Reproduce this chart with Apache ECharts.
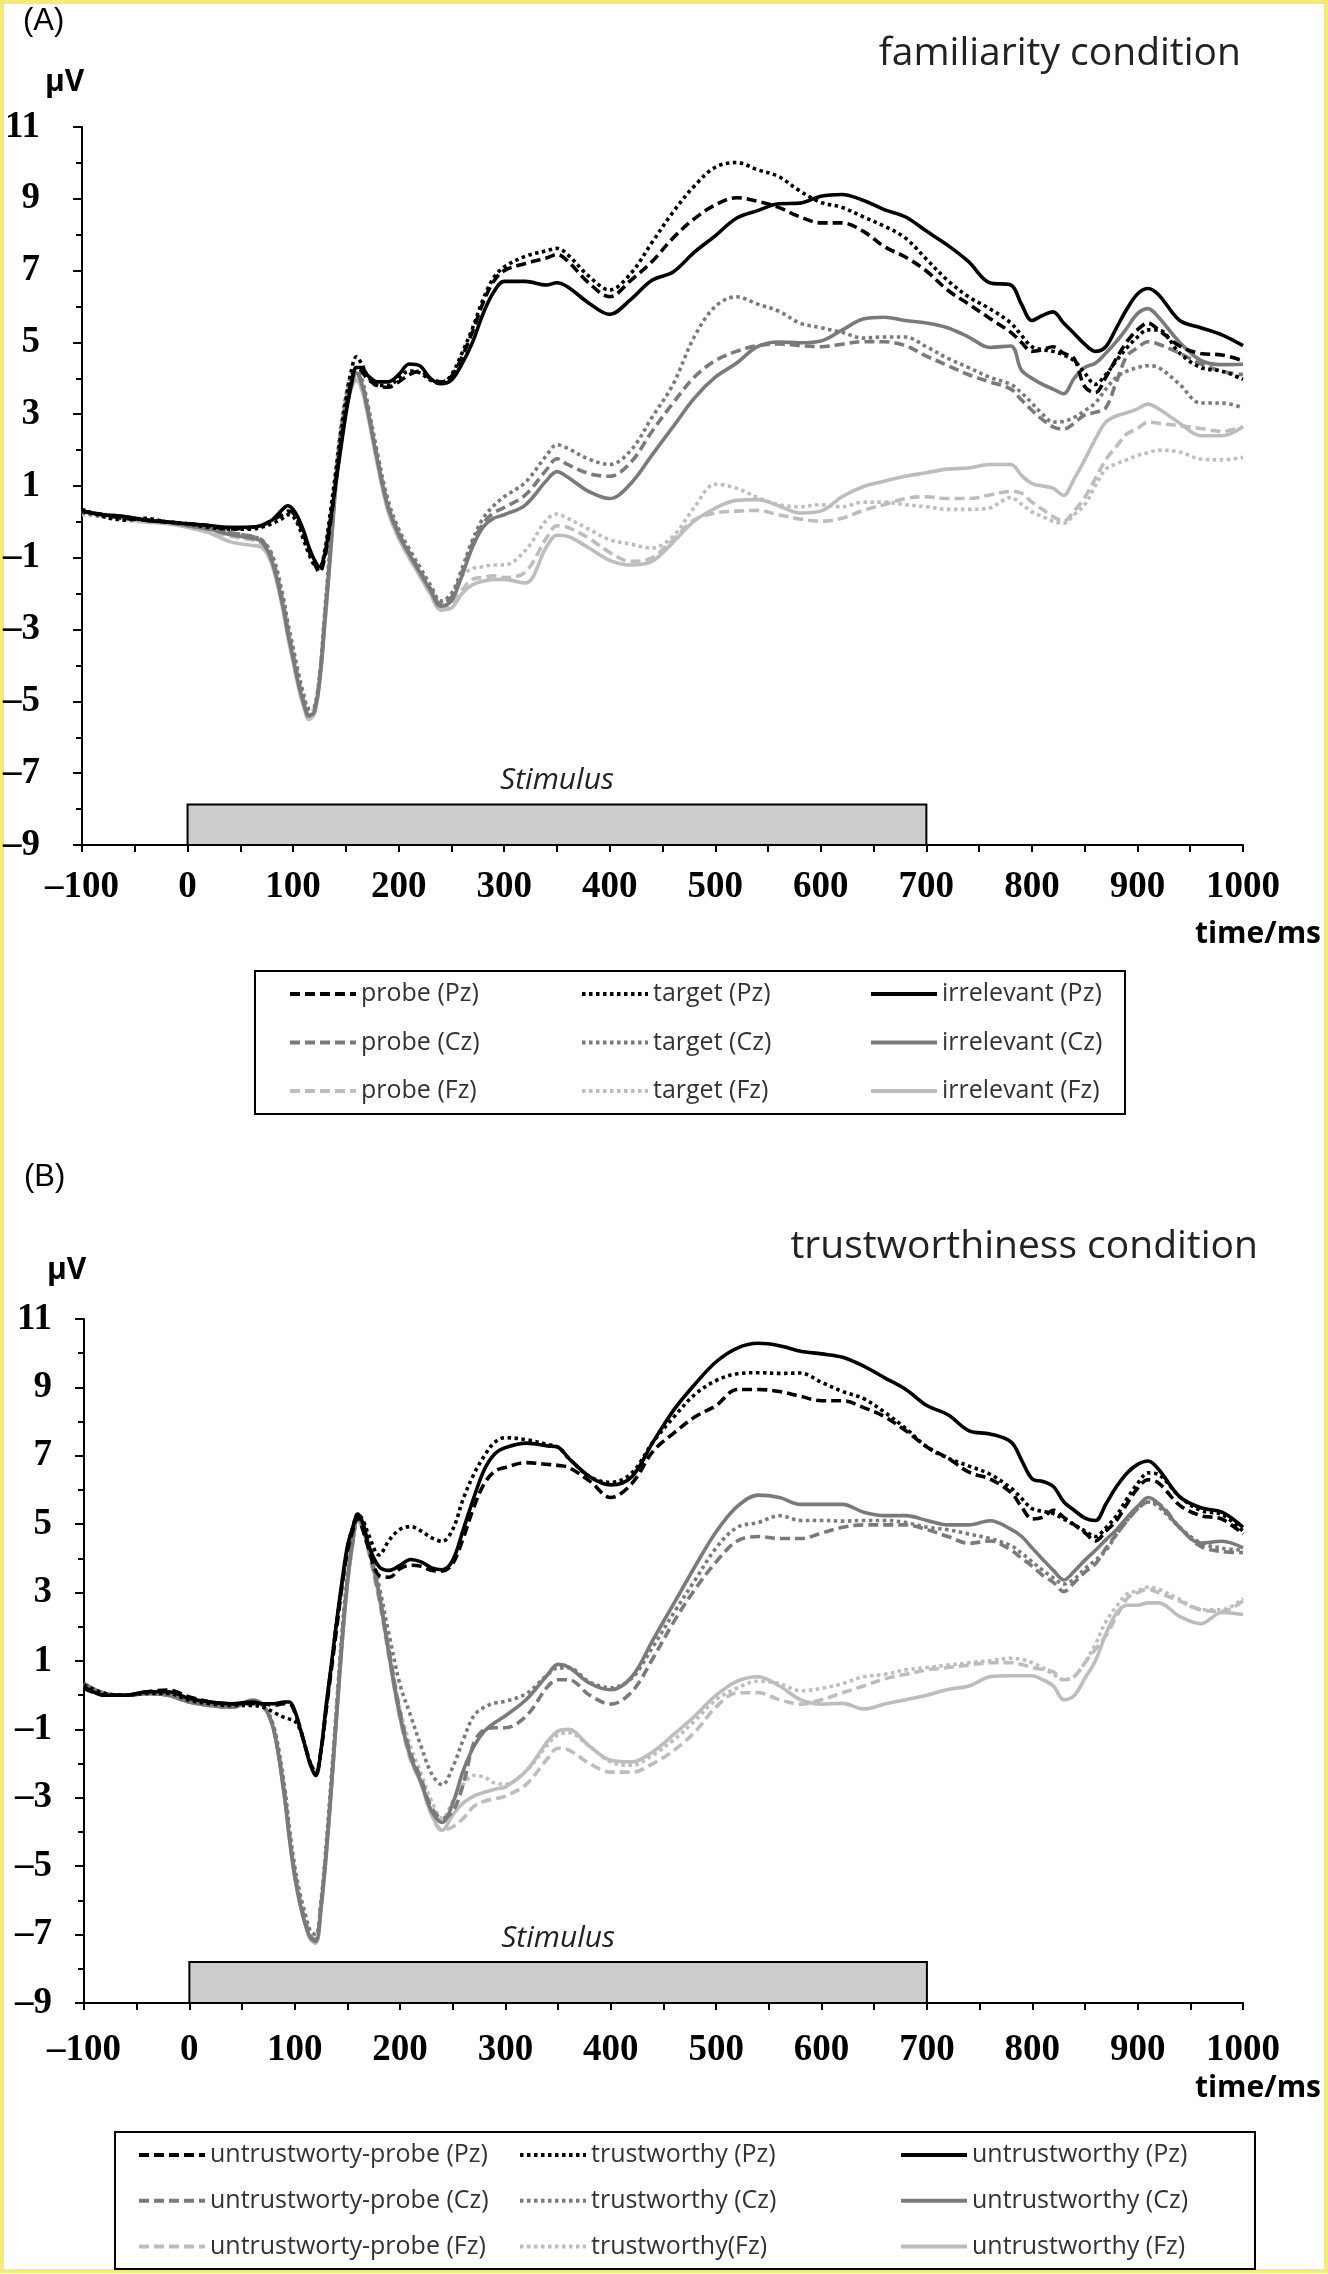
<!DOCTYPE html>
<html>
<head>
<meta charset="utf-8">
<script src="https://cdn.jsdelivr.net/npm/echarts@6/dist/echarts.min.js"></script>
<style>
html,body{margin:0;padding:0;background:#fff;}
#chart{width:1328px;height:2274px;}
</style>
</head>
<body>
<div id="chart"></div>
<script>
// time points (ms)
const T = [
-100,-80,-60,-40,-20,0,20,40,60,
70,80,90,95,100,105,110,115,120,125,130,135,140,145,150,155,160,165,170,
180,190,200,210,220,230,240,250,260,270,280,290,300,
320,340,350,360,380,400,420,440,460,480,500,520,540,560,580,600,620,640,660,680,700,720,740,760,780,
790,800,810,820,830,840,850,860,870,880,890,900,910,920,940,960,980,1000];

const xTicks = [-100,0,100,200,300,400,500,600,700,800,900,1000];
const yTicks = [-9,-7,-5,-3,-1,1,3,5,7,9,11];
const stimulus = [0,700];

// ---------- (A) familiarity condition ----------
const A_probe_Pz = [
0.3,0.2,0.1,0.05,0.0,-0.05,-0.1,-0.2,-0.15,
-0.1,0.05,0.2,0.3,0.25,0.0,-0.35,-0.8,-1.15,-1.4,-1.0,-0.1,1.0,2.1,3.1,3.9,4.3,4.2,4.0,
3.8,3.75,3.9,4.1,4.2,4.0,3.9,4.05,4.6,5.3,6.1,6.7,7.0,
7.2,7.35,7.45,7.27,6.66,6.27,6.73,7.25,7.91,8.44,8.83,9.03,8.93,8.76,8.5,8.33,8.33,8.1,7.67,7.38,6.99,6.46,6.07,5.67,5.28,
5.0,4.75,4.8,4.88,4.7,4.55,3.77,3.6,4.03,4.55,5.02,5.35,5.54,5.35,4.9,4.69,4.65,4.49];
const A_target_Pz = [
0.35,0.15,0.05,0.1,0.0,-0.05,-0.15,-0.2,-0.2,
-0.15,-0.05,0.1,0.2,0.15,-0.1,-0.5,-0.9,-1.2,-1.3,-0.8,0.2,1.3,2.4,3.4,4.2,4.6,4.4,4.1,
3.8,3.8,4.0,4.2,4.15,3.95,3.85,4.1,4.7,5.4,6.2,6.8,7.1,
7.4,7.55,7.62,7.45,6.85,6.46,6.92,7.78,8.63,9.35,9.88,10.01,9.81,9.62,9.22,8.9,8.76,8.5,8.24,7.91,7.32,6.73,6.27,5.94,5.54,
5.2,4.88,4.8,4.75,4.65,4.49,4.15,3.83,4.1,4.49,4.85,5.15,5.35,5.35,4.7,4.3,4.2,3.97];
const A_irr_Pz = [
0.3,0.2,0.15,0.05,0.0,-0.05,-0.1,-0.15,-0.15,
-0.1,0.05,0.35,0.45,0.35,0.1,-0.25,-0.7,-1.05,-1.25,-0.9,0.0,1.0,2.0,3.0,3.8,4.3,4.3,4.1,
3.9,3.9,4.1,4.4,4.35,4.0,3.85,3.95,4.4,5.0,5.8,6.4,6.7,
6.7,6.6,6.66,6.55,6.1,5.78,6.2,6.73,6.96,7.51,7.97,8.46,8.67,8.86,8.88,9.07,9.12,8.96,8.7,8.5,8.1,7.71,7.25,6.66,6.6,
6.07,5.61,5.75,5.85,5.54,5.25,4.95,4.75,4.88,5.4,5.93,6.35,6.5,6.33,5.61,5.41,5.21,4.91];
const A_probe_Cz = [
0.3,0.2,0.15,0.05,0.0,-0.1,-0.2,-0.3,-0.4,
-0.5,-1.0,-2.2,-3.0,-3.7,-4.4,-5.0,-5.4,-5.25,-4.4,-2.7,-0.9,1.0,2.4,3.3,3.9,4.2,3.9,3.25,
1.75,0.45,-0.3,-0.85,-1.35,-1.85,-2.3,-2.1,-1.4,-0.6,-0.05,0.25,0.4,
0.75,1.45,1.76,1.6,1.35,1.27,1.66,2.52,3.31,4.03,4.49,4.75,4.91,4.96,4.91,4.88,4.95,5.02,5.02,4.91,4.62,4.36,4.1,3.9,3.7,
3.4,3.11,2.85,2.65,2.58,2.75,2.98,3.05,3.18,3.9,4.62,4.85,5.02,4.95,4.7,4.4,4.2,4.1];
const A_target_Cz = [
0.25,0.15,0.1,0.05,0.0,-0.1,-0.2,-0.3,-0.4,
-0.5,-0.9,-2.0,-2.8,-3.5,-4.2,-4.8,-5.2,-5.15,-4.3,-2.5,-0.7,1.2,2.6,3.5,4.1,4.3,4.0,3.4,
1.9,0.6,-0.2,-0.75,-1.25,-1.75,-2.2,-2.0,-1.3,-0.5,0.1,0.45,0.7,
1.1,1.85,2.15,2.05,1.75,1.6,1.99,2.91,3.83,5.15,6.0,6.27,6.07,5.87,5.54,5.41,5.28,5.12,5.15,5.15,4.88,4.56,4.3,4.03,3.83,
3.6,3.31,3.0,2.78,2.8,2.91,3.1,3.31,3.7,4.03,4.2,4.3,4.35,4.3,3.83,3.31,3.31,3.18];
const A_irr_Cz = [
0.3,0.2,0.15,0.05,0.0,-0.1,-0.2,-0.35,-0.45,
-0.55,-1.1,-2.3,-3.1,-3.8,-4.5,-5.05,-5.4,-5.3,-4.45,-2.8,-1.0,0.9,2.3,3.2,3.8,4.15,3.85,3.2,
1.7,0.4,-0.35,-0.9,-1.4,-1.9,-2.35,-2.2,-1.5,-0.7,-0.15,0.1,0.2,
0.47,1.15,1.4,1.25,0.85,0.65,1.07,1.86,2.65,3.44,4.03,4.42,4.88,5.01,4.99,5.04,5.34,5.65,5.7,5.61,5.54,5.41,5.15,4.86,4.9,
4.23,4.0,3.83,3.7,3.57,4.0,4.3,4.42,4.7,5.02,5.4,5.8,5.94,5.7,5.0,4.5,4.38,4.39];
const A_probe_Fz = [
0.3,0.2,0.1,0.05,0.0,-0.1,-0.25,-0.4,-0.5,
-0.6,-1.1,-2.3,-3.1,-3.85,-4.55,-5.1,-5.5,-5.35,-4.5,-2.85,-1.05,0.85,2.25,3.15,3.7,3.95,3.7,3.1,
1.6,0.3,-0.45,-1.0,-1.5,-2.0,-2.45,-2.3,-1.9,-1.6,-1.55,-1.5,-1.55,
-1.4,-0.45,-0.11,-0.15,-0.45,-0.85,-1.1,-1.0,-0.5,0.05,0.25,0.3,0.32,0.2,0.08,0.02,0.1,0.32,0.48,0.65,0.7,0.65,0.65,0.75,0.85,
0.8,0.55,0.35,0.15,0.02,0.3,0.68,1.2,1.73,2.1,2.45,2.6,2.78,2.75,2.68,2.6,2.52,2.65];
const A_target_Fz = [
0.2,0.15,0.05,0.0,0.0,-0.1,-0.2,-0.35,-0.45,
-0.55,-1.0,-2.1,-2.9,-3.6,-4.3,-4.9,-5.3,-5.2,-4.35,-2.6,-0.8,1.1,2.5,3.4,3.9,4.1,3.8,3.2,
1.7,0.45,-0.35,-0.9,-1.4,-1.85,-2.25,-2.0,-1.5,-1.3,-1.25,-1.2,-1.2,
-0.8,0.05,0.22,0.1,-0.2,-0.5,-0.62,-0.73,-0.4,0.4,1.05,0.94,0.68,0.48,0.42,0.48,0.42,0.55,0.55,0.48,0.42,0.35,0.35,0.39,0.68,
0.5,0.28,0.15,0.02,-0.04,0.2,0.48,1.0,1.47,1.62,1.73,1.85,1.93,2.0,1.95,1.75,1.73,1.8];
const A_irr_Fz = [
0.3,0.2,0.1,0.0,-0.05,-0.15,-0.3,-0.55,-0.65,
-0.7,-1.2,-2.4,-3.2,-3.9,-4.6,-5.15,-5.5,-5.35,-4.5,-2.9,-1.1,0.8,2.2,3.1,3.7,3.95,3.7,3.1,
1.6,0.3,-0.45,-1.0,-1.5,-2.0,-2.45,-2.4,-2.0,-1.75,-1.65,-1.6,-1.6,
-1.7,-0.7,-0.37,-0.4,-0.72,-1.07,-1.2,-1.1,-0.57,0.02,0.38,0.6,0.62,0.45,0.25,0.3,0.7,0.98,1.13,1.27,1.37,1.47,1.5,1.6,1.6,
1.3,1.07,1.0,0.94,0.74,1.2,1.73,2.3,2.78,2.95,3.04,3.15,3.28,3.15,2.75,2.4,2.4,2.65];

// ---------- (B) trustworthiness condition ----------
const B_probe_Pz = [
0.2,0.0,0.0,0.1,0.15,-0.05,-0.2,-0.25,-0.25,
-0.25,-0.3,-0.25,-0.25,-0.5,-0.95,-1.5,-2.0,-2.3,-1.6,-0.4,0.8,2.0,3.2,4.2,4.8,5.2,4.8,4.3,
3.5,3.45,3.7,3.8,3.77,3.65,3.63,3.85,4.6,5.5,6.19,6.55,6.66,
6.8,6.75,6.72,6.66,6.26,5.78,6.19,7.13,7.67,8.14,8.47,8.94,8.94,8.88,8.74,8.61,8.61,8.41,8.14,7.73,7.26,6.93,6.52,6.32,5.92,
5.5,5.15,5.2,5.41,5.2,4.98,4.75,4.51,4.8,5.11,5.6,6.05,6.3,6.2,5.55,5.25,5.15,4.71];
const B_trust_Pz = [
0.3,0.05,0.0,0.05,0.05,-0.15,-0.25,-0.3,-0.3,
-0.35,-0.5,-0.65,-0.7,-0.75,-1.0,-1.5,-2.0,-2.25,-1.6,-0.3,0.9,2.2,3.3,4.3,4.9,5.3,5.1,4.7,
4.1,4.55,4.85,4.93,4.8,4.6,4.5,4.85,5.75,6.46,7.0,7.4,7.53,
7.47,7.33,7.25,6.93,6.39,6.22,6.5,7.4,8.14,8.8,9.2,9.4,9.43,9.41,9.42,9.15,8.88,8.67,8.27,7.8,7.26,6.93,6.7,6.46,6.05,
5.75,5.45,5.38,5.31,5.15,4.98,4.8,4.64,4.9,5.25,5.75,6.19,6.5,6.45,5.8,5.4,5.28,4.8];
const B_untr_Pz = [
0.25,0.0,0.0,0.1,0.1,-0.1,-0.2,-0.25,-0.2,
-0.25,-0.25,-0.2,-0.2,-0.45,-0.95,-1.5,-2.05,-2.35,-1.6,-0.25,0.95,2.2,3.35,4.35,4.9,5.3,5.0,4.4,
3.76,3.65,3.8,3.97,3.9,3.72,3.67,3.95,4.85,5.78,6.6,7.06,7.24,
7.37,7.29,7.25,6.93,6.39,6.15,6.39,7.4,8.35,9.1,9.75,10.15,10.29,10.22,10.06,9.98,9.88,9.62,9.28,8.94,8.47,8.2,7.73,7.64,7.4,
6.86,6.32,6.25,6.1,5.65,5.4,5.18,5.11,5.6,6.1,6.5,6.75,6.85,6.6,5.8,5.48,5.35,4.91];
const B_probe_Cz = [
0.3,0.05,0.0,0.05,0.0,-0.2,-0.3,-0.35,-0.2,
-0.3,-1.0,-2.8,-4.1,-5.2,-6.0,-6.6,-7.05,-7.15,-6.1,-4.5,-2.5,-0.4,1.7,3.4,4.5,5.2,4.9,4.3,
2.9,1.2,-0.5,-1.7,-2.45,-3.3,-3.6,-3.4,-2.6,-1.4,-1.0,-0.95,-0.95,
-0.6,0.25,0.45,0.45,0.0,-0.26,0.1,1.08,2.16,3.1,3.9,4.51,4.64,4.58,4.58,4.74,4.91,4.98,4.98,4.98,4.84,4.64,4.44,4.51,4.24,
4.0,3.77,3.5,3.3,3.03,3.3,3.6,3.84,4.3,4.71,5.1,5.45,5.65,5.6,4.9,4.35,4.2,4.17];
const B_trust_Cz = [
0.3,0.05,0.0,0.05,0.0,-0.2,-0.3,-0.35,-0.15,
-0.3,-0.9,-2.6,-3.9,-5.0,-5.8,-6.4,-6.9,-7.0,-6.0,-4.3,-2.3,-0.2,1.9,3.5,4.6,5.25,5.0,4.5,
3.2,1.7,0.3,-0.6,-1.5,-2.3,-2.62,-2.1,-1.3,-0.6,-0.35,-0.23,-0.18,
0.05,0.6,0.8,0.8,0.38,0.22,0.5,1.42,2.42,3.37,4.31,4.91,5.05,5.25,5.11,5.11,5.09,5.11,5.11,5.05,4.91,4.84,4.71,4.58,4.37,
4.15,3.9,3.65,3.43,3.25,3.4,3.7,3.95,4.24,4.7,5.11,5.45,5.65,5.5,4.9,4.45,4.3,4.24];
const B_untr_Cz = [
0.35,0.05,0.0,0.05,0.0,-0.2,-0.3,-0.35,-0.15,
-0.3,-1.0,-2.9,-4.2,-5.3,-6.1,-6.7,-7.1,-7.2,-6.2,-4.6,-2.6,-0.5,1.6,3.3,4.5,5.3,5.0,4.4,
3.0,1.1,-0.62,-1.8,-2.55,-3.4,-3.72,-3.16,-2.2,-1.5,-1.05,-0.8,-0.6,
-0.12,0.6,0.9,0.82,0.35,0.16,0.54,1.62,2.69,3.77,4.78,5.52,5.85,5.78,5.58,5.58,5.58,5.35,5.25,5.25,5.11,4.98,4.98,5.1,4.85,
4.64,4.3,3.97,3.65,3.37,3.63,3.95,4.24,4.55,4.84,5.2,5.52,5.78,5.6,4.9,4.45,4.5,4.31];
const B_probe_Fz = [
0.3,0.05,0.0,0.05,0.0,-0.2,-0.3,-0.35,-0.15,
-0.3,-1.0,-2.8,-4.1,-5.2,-6.0,-6.6,-7.1,-7.25,-6.2,-4.6,-2.6,-0.5,1.5,3.2,4.4,5.1,4.8,4.2,
2.8,1.0,-0.7,-1.9,-2.6,-3.5,-3.95,-3.85,-3.6,-3.25,-3.1,-3.03,-2.95,
-2.6,-1.85,-1.55,-1.6,-2.0,-2.25,-2.25,-2.0,-1.61,-1.07,-0.34,0.07,0.07,-0.13,-0.26,-0.13,0.07,0.27,0.48,0.61,0.74,0.81,0.88,0.95,0.95,
0.9,0.81,0.75,0.68,0.45,0.55,0.95,1.35,1.75,2.3,2.83,3.0,3.1,3.0,2.75,2.5,2.45,2.76];
const B_trust_Fz = [
0.3,0.05,0.0,0.05,0.0,-0.2,-0.3,-0.35,-0.15,
-0.3,-0.95,-2.7,-4.0,-5.1,-5.9,-6.5,-7.0,-7.15,-6.1,-4.5,-2.5,-0.4,1.6,3.3,4.5,5.15,4.85,4.3,
2.9,1.2,-0.4,-1.5,-2.3,-3.1,-3.6,-3.1,-2.6,-2.35,-2.4,-2.57,-2.6,
-2.2,-1.45,-1.15,-1.1,-1.5,-1.95,-2.05,-1.75,-1.3,-0.74,-0.13,0.21,0.41,0.34,0.13,0.2,0.34,0.54,0.61,0.74,0.81,0.88,0.95,1.01,1.08,
1.05,0.95,0.8,0.61,0.45,0.55,0.95,1.5,2.16,2.6,2.96,3.05,3.16,3.1,2.8,2.5,2.5,2.83];
const B_untr_Fz = [
0.3,0.05,0.0,0.05,0.0,-0.2,-0.3,-0.35,-0.15,
-0.3,-1.0,-2.9,-4.2,-5.3,-6.1,-6.7,-7.15,-7.25,-6.25,-4.65,-2.65,-0.55,1.55,3.25,4.45,5.2,4.9,4.3,
2.9,1.1,-0.65,-1.85,-2.6,-3.5,-3.95,-3.5,-3.15,-2.95,-2.84,-2.75,-2.68,
-2.2,-1.35,-1.05,-1.0,-1.5,-1.9,-1.95,-1.65,-1.14,-0.6,0.0,0.41,0.54,0.27,-0.13,-0.26,-0.24,-0.4,-0.26,-0.13,0.0,0.17,0.27,0.54,0.57,
0.57,0.57,0.45,0.27,-0.13,0.0,0.5,1.01,1.8,2.4,2.63,2.63,2.7,2.7,2.3,2.09,2.42,2.36];

const namesA = {probe:['probe (Pz)','probe (Cz)','probe (Fz)'], target:['target (Pz)','target (Cz)','target (Fz)'], irr:['irrelevant (Pz)','irrelevant (Cz)','irrelevant (Fz)']};
const namesB = {probe:['untrustworty-probe (Pz)','untrustworty-probe (Cz)','untrustworty-probe (Fz)'], target:['trustworthy (Pz)','trustworthy (Cz)','trustworthy(Fz)'], irr:['untrustworthy (Pz)','untrustworthy (Cz)','untrustworthy (Fz)']};

const COL = {Pz:'#000000', Cz:'#7a7a7a', Fz:'#bdbdbd'};
const DASH = {probe:[10,5], target:[3.5,3.5], irr:'solid'};

function pairs(vals){ const n=Math.min(T.length,vals.length); const out=[]; for(let i=0;i<n;i++) out.push([T[i],vals[i]]); return out; }
function mk(name, vals, elec, kind, g){
  return {name:name, type:'line', xAxisIndex:g, yAxisIndex:g, data:pairs(vals), showSymbol:false, symbol:'none',
    smooth:0.35, silent:true, lineStyle:{color:COL[elec], width:3.6, type:DASH[kind]}, itemStyle:{color:COL[elec]},
    emphasis:{disabled:true}, z:(elec==='Pz'?5:(elec==='Cz'?4:3))};
}
function stimSeries(g, top){
  return {name:'stim'+g, type:'line', xAxisIndex:g, yAxisIndex:g, data:[], silent:true,
    markArea:{silent:true, itemStyle:{color:'#cccccc', borderColor:'#000', borderWidth:2},
      label:{show:true, position:'top', distance:8, formatter:'Stimulus', fontFamily:'Open Sans', fontStyle:'italic', fontSize:30, color:'#222'},
      data:[[{xAxis:stimulus[0], yAxis:-9},{xAxis:stimulus[1], yAxis:top}]]}};
}

const series = [
  stimSeries(0,-7.87), stimSeries(1,-7.8),
  mk(namesA.irr[2],A_irr_Fz,'Fz','irr',0), mk(namesA.target[2],A_target_Fz,'Fz','target',0), mk(namesA.probe[2],A_probe_Fz,'Fz','probe',0),
  mk(namesA.irr[1],A_irr_Cz,'Cz','irr',0), mk(namesA.target[1],A_target_Cz,'Cz','target',0), mk(namesA.probe[1],A_probe_Cz,'Cz','probe',0),
  mk(namesA.irr[0],A_irr_Pz,'Pz','irr',0), mk(namesA.target[0],A_target_Pz,'Pz','target',0), mk(namesA.probe[0],A_probe_Pz,'Pz','probe',0),
  mk(namesB.irr[2],B_untr_Fz,'Fz','irr',1), mk(namesB.target[2],B_trust_Fz,'Fz','target',1), mk(namesB.probe[2],B_probe_Fz,'Fz','probe',1),
  mk(namesB.irr[1],B_untr_Cz,'Cz','irr',1), mk(namesB.target[1],B_trust_Cz,'Cz','target',1), mk(namesB.probe[1],B_probe_Cz,'Cz','probe',1),
  mk(namesB.irr[0],B_untr_Pz,'Pz','irr',1), mk(namesB.target[0],B_trust_Pz,'Pz','target',1), mk(namesB.probe[0],B_probe_Pz,'Pz','probe',1)
];

const tickFont = {fontFamily:'Liberation Serif', fontWeight:'bold', fontSize:37, color:'#000'};
function fmt(v){ return String(v).replace('-','\u2013'); }
function xAx(g, margin){
  return {type:'value', gridIndex:g, min:xTicks[0], max:xTicks[xTicks.length-1], interval:100,
    axisLine:{show:true, onZero:false, lineStyle:{color:'#000', width:2}},
    axisTick:{show:true, inside:false, length:7, lineStyle:{color:'#000', width:2}},
    minorTick:{show:true, splitNumber:2, length:7, lineStyle:{color:'#000', width:2}},
    splitLine:{show:false}, minorSplitLine:{show:false},
    axisLabel:Object.assign({margin:margin, formatter:fmt}, tickFont)};
}
function yAx(g, margin){
  return {type:'value', gridIndex:g, min:yTicks[0], max:yTicks[yTicks.length-1], interval:2,
    axisLine:{show:true, onZero:false, lineStyle:{color:'#000', width:2}},
    axisTick:{show:true, length:9, lineStyle:{color:'#000', width:2}},
    minorTick:{show:true, splitNumber:2, length:6, lineStyle:{color:'#000', width:2}},
    splitLine:{show:false}, minorSplitLine:{show:false},
    axisLabel:Object.assign({margin:margin, formatter:fmt}, tickFont)};
}

const legFont = {fontFamily:'Open Sans', fontSize:25, color:'#333', lineHeight:26};
function leg(data, left, top, gap){
  return {show:true, data:data, left:left, top:top, orient:'vertical', itemWidth:66, itemHeight:12, itemGap:gap,
    padding:0, selectedMode:false, textStyle:legFont,
    itemStyle:{opacity:0, borderWidth:0}, lineStyle:{width:4}};
}

const txt = (text, x, y, font, align, fill) => ({type:'text', silent:true, style:{text:text, x:x, y:y, font:font, textAlign:align||'left', textVerticalAlign:'middle', fill:fill||'#000'}});

const option = {
  animation:false,
  backgroundColor:'#ffffff',
  grid:[
    {left:82, top:127, width:1161, height:718, containLabel:false},
    {left:84, top:1319, width:1159, height:684, containLabel:false}
  ],
  xAxis:[xAx(0,24), xAx(1,29)],
  yAxis:[yAx(0,42), yAx(1,32)],
  legend:[
    leg(namesA.probe, 288, 981, 22.5), leg(namesA.target, 580, 981, 22.5), leg(namesA.irr, 869, 981, 22.5),
    leg(namesB.probe, 137, 2142, 19.7), leg(namesB.target, 518, 2142, 19.7), leg(namesB.irr, 899, 2142, 19.7)
  ],
  graphic:[
    {type:'rect', silent:true, shape:{x:2, y:2, width:1324, height:2269}, style:{fill:'none', stroke:'#f3ec7a', lineWidth:4}},
    {type:'rect', silent:true, shape:{x:255, y:971, width:870, height:143}, style:{fill:'none', stroke:'#000', lineWidth:2}},
    {type:'rect', silent:true, shape:{x:115, y:2132, width:1140, height:137}, style:{fill:'none', stroke:'#000', lineWidth:2}},
    txt('(A)', 23, 21, '31px "Liberation Sans"'),
    txt('(B)', 24, 1177, '31px "Liberation Sans"'),
    txt('familiarity condition', 1241, 54, '39px "Open Sans"', 'right', '#222'),
    txt('trustworthiness condition', 1258, 1247, '39px "Open Sans"', 'right', '#222'),
    txt('\u00b5V', 45, 82, 'bold 30px "Open Sans"'),
    txt('\u00b5V', 47, 1270, 'bold 30px "Open Sans"'),
    txt('time/ms', 1321, 934, 'bold 30px "Open Sans"', 'right'),
    txt('time/ms', 1321, 2088, 'bold 30px "Open Sans"', 'right')
  ],
  series:series
};

const chart = echarts.init(document.getElementById('chart'));
chart.setOption(option);
</script>
</body>
</html>
